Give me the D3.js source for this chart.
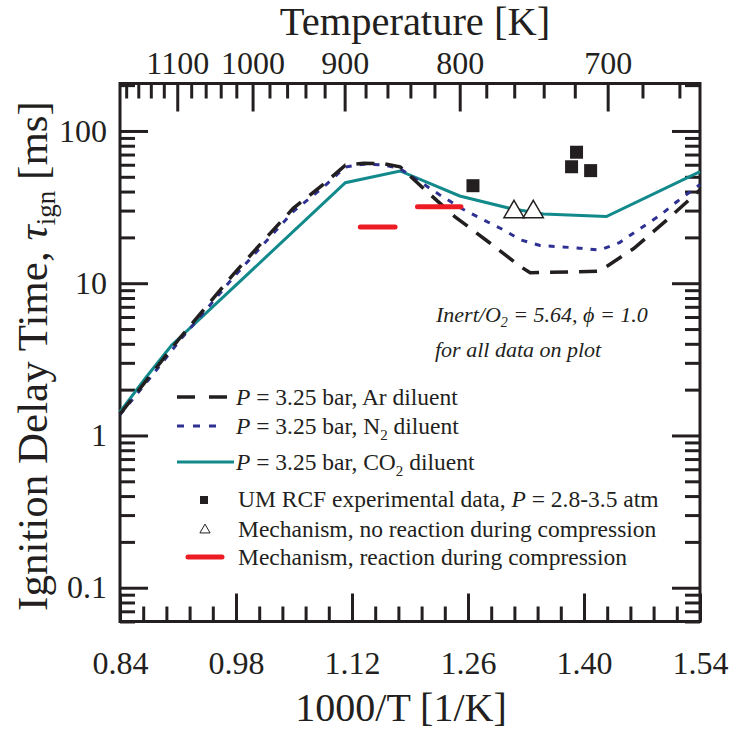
<!DOCTYPE html>
<html>
<head>
<meta charset="utf-8">
<script src="https://cdn.jsdelivr.net/npm/d3@7/dist/d3.min.js"></script>
<style>
    body { margin: 0; background: #ffffff; }
    text { font-family: "Liberation Serif", "Times New Roman", serif; fill: #231f20; }
</style>
</head>
<body>
<svg id="chart" width="729" height="734"></svg>
<script>

// ---- data (x = 1000/T [1/K], y = ignition delay [ms]) ----
var arInvT = [0.84, 0.878, 0.912, 0.944, 0.976, 1.013, 1.049, 1.087, 1.112, 1.134, 1.158, 1.178, 1.206, 1.244, 1.284, 1.323, 1.335, 1.419, 1.46, 1.50, 1.54];
var arTau = [1.38, 2.54, 4.35, 7.0, 11.3, 19.0, 31, 45.3, 59.7, 61.4, 61, 58.2, 42, 27.4, 18.8, 12.9, 11.7, 12.0, 16.9, 26, 41];

var n2InvT = [0.84, 0.878, 0.912, 0.944, 0.976, 1.013, 1.049, 1.087, 1.112, 1.134, 1.158, 1.178, 1.202, 1.226, 1.254, 1.279, 1.303, 1.323, 1.347, 1.395, 1.419, 1.443, 1.468, 1.492, 1.512, 1.54];
var n2Tau = [1.37, 2.45, 4.2, 6.7, 10.8, 18, 29.5, 43.5, 58, 60.5, 60, 56.5, 46.4, 38, 30.6, 26, 22.4, 19.3, 17.7, 17.0, 16.5, 18.5, 22.9, 28, 34.3, 44.5];

var co2InvT = [0.84, 0.872, 0.902, 1.112, 1.178, 1.250, 1.311, 1.351, 1.427, 1.54];
var co2Tau = [1.43, 2.43, 3.9, 45.7, 54.6, 37.4, 31, 28.5, 27.4, 54];

var expInvT = [1.266, 1.385, 1.391, 1.408];
var expTau = [43.7, 58.2, 72.5, 54.9];

var mechInvT = [1.3155, 1.3388];
var mechTau = [29.4, 29.4];

var reactFrom = [1.130, 1.199];
var reactTo = [1.172, 1.2515];
var reactTau = [23.4, 31.8];

// ticks
var xMajor = [0.84, 0.98, 1.12, 1.26, 1.40, 1.54];
var xMinor = [0.868, 0.896, 0.924, 0.952, 1.008, 1.036, 1.064, 1.092, 1.148, 1.176, 1.204, 1.232, 1.288, 1.316, 1.344, 1.372, 1.428, 1.456, 1.484, 1.512];
var yMajor = [0.1, 1, 10, 100];
var yLabels = ["0.1", "1", "10", "100"];
var tempMajor = [1100, 1000, 900, 800, 700];
var tempMinor = [1180, 1160, 1140, 1120, 1080, 1060, 1040, 1020, 980, 960, 940, 920, 880, 860, 840, 820, 780, 760, 740, 720, 680, 660];

var ink = "#231f20";
var teal = "#128a8c";
var navy = "#2e3192";
var red = "#ed1c24";

// plot frame (window.top is reserved, so these get a prefix)
var pLeft = 120, pRight = 700, pTop = 83.5, pBottom = 621.5;

var svg = d3.select("#chart");

var x = d3.scaleLinear().domain([0.84, 1.54]).range([pLeft, pRight]);
var y = d3.scaleLog().domain([0.06, 205]).range([pBottom, pTop]);

// minor ticks for the log axis
var yMinor = [];
[0.01, 0.1, 1, 10, 100].forEach(dec => {
    for (let m = 2; m <= 9; m++) {
        var v = dec * m;
        if (v >= 0.06 && v <= 205) yMinor.push(v);
    }
});

function styleAxis(g) {
    g.select(".domain").remove();
    g.selectAll(".tick line").attr("stroke", ink).attr("stroke-width", 3);
    g.selectAll(".tick text")
        .attr("fill", ink)
        .style("font-family", '"Liberation Serif", serif')
        .style("font-size", "32px");
}

// bottom axis
svg.append("g")
    .attr("transform", "translate(0," + pBottom + ")")
    .call(d3.axisBottom(x).tickValues(xMajor).tickFormat(d3.format(".2f"))
        .tickSizeInner(-28).tickSizeOuter(0).tickPadding(30))
    .call(styleAxis);
svg.append("g")
    .attr("transform", "translate(0," + pBottom + ")")
    .call(d3.axisBottom(x).tickValues(xMinor).tickFormat("").tickSizeInner(-15).tickSizeOuter(0))
    .call(styleAxis);

// top axis: temperature
svg.append("g")
    .attr("transform", "translate(0," + pTop + ")")
    .call(d3.axisTop(x).tickValues(tempMajor.map(t => 1000 / t)).tickFormat((d, i) => tempMajor[i])
        .tickSizeInner(-28).tickSizeOuter(0).tickPadding(10))
    .call(styleAxis);
svg.append("g")
    .attr("transform", "translate(0," + pTop + ")")
    .call(d3.axisTop(x).tickValues(tempMinor.map(t => 1000 / t)).tickFormat("").tickSizeInner(-15).tickSizeOuter(0))
    .call(styleAxis);

// left axis
svg.append("g")
    .attr("transform", "translate(" + pLeft + ",0)")
    .call(d3.axisLeft(y).tickValues(yMajor).tickFormat((d, i) => yLabels[i])
        .tickSizeInner(-28).tickSizeOuter(0).tickPadding(13))
    .call(styleAxis);
svg.append("g")
    .attr("transform", "translate(" + pLeft + ",0)")
    .call(d3.axisLeft(y).tickValues(yMinor).tickFormat("").tickSizeInner(-15).tickSizeOuter(0))
    .call(styleAxis);

// right axis
svg.append("g")
    .attr("transform", "translate(" + pRight + ",0)")
    .call(d3.axisRight(y).tickValues(yMajor).tickFormat("").tickSizeInner(-28).tickSizeOuter(0))
    .call(styleAxis);
svg.append("g")
    .attr("transform", "translate(" + pRight + ",0)")
    .call(d3.axisRight(y).tickValues(yMinor).tickFormat("").tickSizeInner(-15).tickSizeOuter(0))
    .call(styleAxis);

svg.append("rect")
    .attr("x", pLeft)
    .attr("y", pTop)
    .attr("width", pRight - pLeft)
    .attr("height", pBottom - pTop)
    .attr("fill", "none")
    .attr("stroke", ink)
    .attr("stroke-width", 3);

// ---- series ----
var line = d3.line().x(d => x(d[0])).y(d => y(d[1]));

svg.append("path")
    .datum(d3.zip(co2InvT, co2Tau))
    .attr("d", line)
    .attr("fill", "none")
    .attr("stroke", teal)
    .attr("stroke-width", 3);

svg.append("path")
    .datum(d3.zip(n2InvT, n2Tau))
    .attr("d", line)
    .attr("fill", "none")
    .attr("stroke", navy)
    .attr("stroke-width", 3)
    .attr("stroke-dasharray", "6,8");

svg.append("path")
    .datum(d3.zip(arInvT, arTau))
    .attr("d", line)
    .attr("fill", "none")
    .attr("stroke", ink)
    .attr("stroke-width", 3.5)
    .attr("stroke-dasharray", "18,11");

svg.selectAll(".react")
    .data(d3.zip(reactFrom, reactTo, reactTau))
    .enter()
    .append("line")
    .attr("class", "react")
    .attr("x1", d => x(d[0]))
    .attr("x2", d => x(d[1]))
    .attr("y1", d => y(d[2]))
    .attr("y2", d => y(d[2]))
    .attr("stroke", red)
    .attr("stroke-width", 5)
    .attr("stroke-linecap", "round");

svg.selectAll(".exp")
    .data(d3.zip(expInvT, expTau))
    .enter()
    .append("rect")
    .attr("class", "exp")
    .attr("x", d => x(d[0]) - 6.5)
    .attr("y", d => y(d[1]) - 6.5)
    .attr("width", 13)
    .attr("height", 13)
    .attr("fill", ink);

var tri = d3.symbol().type(d3.symbolTriangle).size(175);
svg.selectAll(".mech")
    .data(d3.zip(mechInvT, mechTau))
    .enter()
    .append("path")
    .attr("class", "mech")
    .attr("d", tri)
    .attr("transform", d => "translate(" + x(d[0]) + "," + y(d[1]) + ")")
    .attr("fill", "#ffffff")
    .attr("stroke", ink)
    .attr("stroke-width", 1.5);

// ---- titles ----
svg.append("text")
    .attr("x", 415)
    .attr("y", 35)
    .attr("text-anchor", "middle")
    .style("font-size", "40.5px")
    .text("Temperature [K]");

svg.append("text")
    .attr("x", 401)
    .attr("y", 721)
    .attr("text-anchor", "middle")
    .style("font-size", "40px")
    .text("1000/T [1/K]");

var yt = svg.append("text")
    .attr("transform", "translate(47,356) rotate(-90)")
    .attr("text-anchor", "middle")
    .style("font-size", "43px");
yt.append("tspan").text("Ignition Delay Time, ");
yt.append("tspan").style("font-style", "italic").text("\u03c4");
yt.append("tspan").attr("dy", 8).style("font-size", "27px").text("ign");
yt.append("tspan").attr("dy", -8).text(" [ms]");

// ---- annotation ----
var note = svg.append("text")
    .attr("x", 436)
    .attr("y", 322)
    .style("font-size", "22px")
    .style("font-style", "italic");
note.append("tspan").text("Inert/O");
note.append("tspan").attr("dy", 5).style("font-size", "14px").text("2");
note.append("tspan").attr("dy", -5).text(" = 5.64, \u03d5 = 1.0");

svg.append("text")
    .attr("x", 435)
    .attr("y", 357)
    .style("font-size", "22px")
    .style("font-style", "italic")
    .text("for all data on plot");

// ---- legend ----
var legend = svg.append("g");
var lgSize = "23.5px";

function legendText(yb, xs, parts) {
    var t = legend.append("text").attr("x", xs).attr("y", yb).style("font-size", lgSize);
    parts.forEach(p => {
        var s = t.append("tspan").text(p[0]);
        if (p[1] == "i") s.style("font-style", "italic");
        if (p[1] == "sub") s.attr("dy", 6).style("font-size", "15px");
        if (p[1] == "up") s.attr("dy", -6);
    });
}

legend.append("line")
    .attr("x1", 177).attr("x2", 228).attr("y1", 397).attr("y2", 397)
    .attr("stroke", ink).attr("stroke-width", 3.5).attr("stroke-dasharray", "18,14");
legendText(405, 236, [["P", "i"], [" = 3.25 bar, Ar diluent"]]);

legend.append("line")
    .attr("x1", 177).attr("x2", 224).attr("y1", 426).attr("y2", 426)
    .attr("stroke", navy).attr("stroke-width", 3).attr("stroke-dasharray", "7,9");
legendText(434, 236, [["P", "i"], [" = 3.25 bar, N"], ["2", "sub"], [" diluent", "up"]]);

legend.append("line")
    .attr("x1", 177).attr("x2", 234).attr("y1", 462).attr("y2", 462)
    .attr("stroke", teal).attr("stroke-width", 3);
legendText(470, 236, [["P", "i"], [" = 3.25 bar, CO"], ["2", "sub"], [" diluent", "up"]]);

legend.append("rect")
    .attr("x", 200).attr("y", 496).attr("width", 8).attr("height", 8)
    .attr("fill", ink);
legendText(507, 238, [["UM RCF experimental data, "], ["P", "i"], [" = 2.8-3.5 atm"]]);

legend.append("path")
    .attr("d", d3.symbol().type(d3.symbolTriangle).size(45))
    .attr("transform", "translate(205,530)")
    .attr("fill", "#ffffff")
    .attr("stroke", ink)
    .attr("stroke-width", 1);
legendText(537, 238, [["Mechanism, no reaction during compression"]]);

legend.append("line")
    .attr("x1", 188).attr("x2", 222).attr("y1", 557).attr("y2", 557)
    .attr("stroke", red).attr("stroke-width", 5).attr("stroke-linecap", "round");
legendText(565, 238, [["Mechanism, reaction during compression"]]);

</script>
</body>
</html>
